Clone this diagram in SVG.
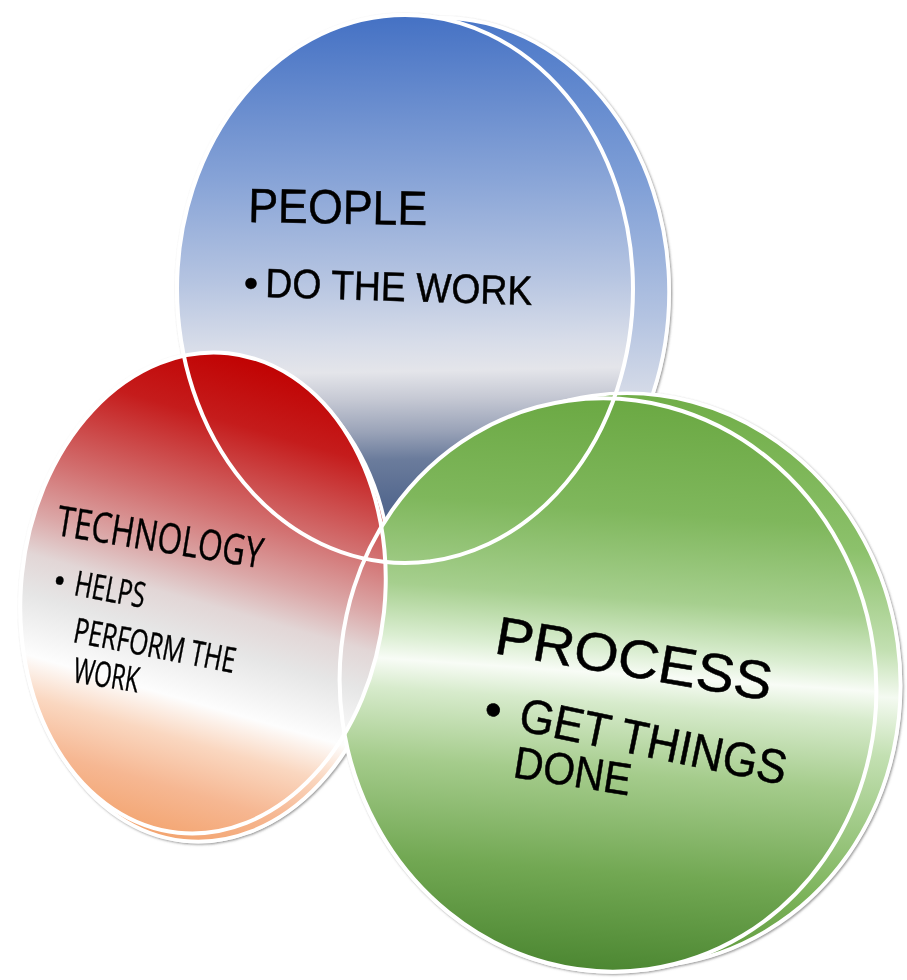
<svg xmlns="http://www.w3.org/2000/svg" xmlns:xlink="http://www.w3.org/1999/xlink" width="907" height="980" viewBox="0 0 907 980">
<style>
.rim{fill:none;stroke:#ffffff;stroke-width:4}
.side{stroke:#ffffff;stroke-width:3.5}
.sil{fill:#ffffff;stroke:#ffffff;stroke-width:4}
.t{fill:#000000;stroke:#000000;stroke-width:0.5;font-family:"Liberation Sans",Arial,sans-serif}
.c{fill:#000000;stroke:#000000;stroke-width:0.4;font-family:"Open Sans","Noto Sans",sans-serif}
</style>
<defs>
<filter id="sh" x="-10%" y="-10%" width="120%" height="120%">
<feDropShadow dx="1.2" dy="1.2" stdDeviation="1.3" flood-color="#555555" flood-opacity="0.6"/>
</filter>
<linearGradient id="gBlue" gradientUnits="userSpaceOnUse" x1="400" y1="15" x2="410" y2="563">
<stop offset="0" stop-color="#4471c4"/>
<stop offset="0.3" stop-color="#88a4d7"/>
<stop offset="0.48" stop-color="#b5c4e1"/>
<stop offset="0.6" stop-color="#d8dde9"/>
<stop offset="0.65" stop-color="#e4e5ea"/>
<stop offset="0.7" stop-color="#c6c9d4"/>
<stop offset="0.76" stop-color="#9aa3b8"/>
<stop offset="0.81" stop-color="#6b7c9c"/>
<stop offset="0.885" stop-color="#55698f"/>
<stop offset="1" stop-color="#4a5e86"/>
</linearGradient>
<linearGradient id="gBlueSide" gradientUnits="userSpaceOnUse" x1="436" y1="18" x2="446" y2="566">
<stop offset="0" stop-color="#4a77c8"/>
<stop offset="0.3" stop-color="#7e9ed6"/>
<stop offset="0.55" stop-color="#b3c3e1"/>
<stop offset="0.7" stop-color="#d7dce8"/>
<stop offset="1" stop-color="#6d7fa3"/>
</linearGradient>
<linearGradient id="gRed" gradientUnits="userSpaceOnUse" x1="245" y1="352" x2="160" y2="834">
<stop offset="0" stop-color="#c00000"/>
<stop offset="0.15" stop-color="#c51c1c"/>
<stop offset="0.33" stop-color="#d27070"/>
<stop offset="0.44" stop-color="#dba7a7"/>
<stop offset="0.52" stop-color="#e2d6d6"/>
<stop offset="0.6" stop-color="#e6e6e6"/>
<stop offset="0.72" stop-color="#fdfdfd"/>
<stop offset="0.8" stop-color="#fad7c0"/>
<stop offset="0.9" stop-color="#f6b792"/>
<stop offset="1" stop-color="#f3a571"/>
</linearGradient>
<linearGradient id="gGreen" gradientUnits="userSpaceOnUse" x1="668" y1="400" x2="548" y2="970">
<stop offset="0" stop-color="#6aa842"/>
<stop offset="0.2" stop-color="#7fb75c"/>
<stop offset="0.35" stop-color="#a6cf8e"/>
<stop offset="0.44" stop-color="#dbeed2"/>
<stop offset="0.48" stop-color="#f8fcf6"/>
<stop offset="0.53" stop-color="#d7ebcc"/>
<stop offset="0.65" stop-color="#a5cc8c"/>
<stop offset="0.82" stop-color="#72a853"/>
<stop offset="1" stop-color="#4a8530"/>
</linearGradient>
<linearGradient id="gGreenSide" gradientUnits="userSpaceOnUse" x1="692" y1="395" x2="572" y2="965">
<stop offset="0" stop-color="#70ad47"/>
<stop offset="0.25" stop-color="#8cc16b"/>
<stop offset="0.42" stop-color="#c3e0b2"/>
<stop offset="0.5" stop-color="#f4faf1"/>
<stop offset="0.6" stop-color="#c3e0b2"/>
<stop offset="0.85" stop-color="#7cb35a"/>
<stop offset="1" stop-color="#5a9438"/>
</linearGradient>
<ellipse id="eBlue" cx="405" cy="289" rx="228" ry="274"/>
<ellipse id="eBlueSide" cx="441" cy="292" rx="228" ry="274"/>
<ellipse id="eRed" cx="203" cy="593" rx="182" ry="241" transform="rotate(6 203 593)"/>
<ellipse id="eRedSide" cx="209" cy="601" rx="182" ry="241" transform="rotate(6 209 601)"/>
<ellipse id="eGreen" cx="608" cy="685" rx="268" ry="287" transform="rotate(-8 608 685)"/>
<ellipse id="eGreenSide" cx="632" cy="680" rx="268" ry="287" transform="rotate(-8 632 680)"/>
</defs>
<rect width="907" height="980" fill="#ffffff"/>
<g id="shadow" filter="url(#sh)">
<use xlink:href="#eBlueSide" class="sil"/>
<use xlink:href="#eBlue" class="sil"/>
<use xlink:href="#eRedSide" class="sil"/>
<use xlink:href="#eRed" class="sil"/>
<use xlink:href="#eGreenSide" class="sil"/>
<use xlink:href="#eGreen" class="sil"/>
</g>
<g id="node-people">
<use xlink:href="#eBlueSide" class="side" fill="url(#gBlueSide)"/>
<use xlink:href="#eBlue" fill="url(#gBlue)"/>
<text class="t" x="248" y="222" font-size="48" textLength="179" lengthAdjust="spacingAndGlyphs" transform="rotate(1 248 222)">PEOPLE</text>
<text class="t" x="244" y="297" font-size="40">•</text>
<text class="t" x="265" y="297" font-size="41" textLength="267" lengthAdjust="spacingAndGlyphs" transform="rotate(1.7 265 297)">DO THE WORK</text>
</g>
<g id="node-technology-side">
<use xlink:href="#eRedSide" class="side" fill="url(#gRed)"/>
</g>
<g id="node-process">
<use xlink:href="#eGreenSide" class="side" fill="url(#gGreenSide)"/>
<use xlink:href="#eGreen" fill="url(#gGreen)"/>
<text class="t" x="493" y="653" font-size="54" textLength="280" lengthAdjust="spacingAndGlyphs" transform="rotate(9.8 493 653)">PROCESS</text>
<text class="t" x="482" y="724" font-size="48" transform="rotate(11 482 724)">•</text>
<text class="t" x="517" y="730" font-size="48" textLength="272" lengthAdjust="spacingAndGlyphs" transform="rotate(11.7 517 730)">GET THINGS</text>
<text class="t" x="512" y="777" font-size="45" textLength="118" lengthAdjust="spacingAndGlyphs" transform="rotate(9 512 777)">DONE</text>
</g>
<g id="node-technology">
<use xlink:href="#eRed" fill="url(#gRed)"/>
<text class="c" x="55" y="535" font-size="42" textLength="208" lengthAdjust="spacingAndGlyphs" transform="rotate(9.2 55 535)">TECHNOLOGY</text>
<text class="c" x="51" y="592" font-size="35" transform="rotate(10 51 592)">•</text>
<text class="c" x="73" y="595" font-size="35" textLength="71" lengthAdjust="spacingAndGlyphs" transform="rotate(10.5 73 595)">HELPS</text>
<text class="c" x="72" y="642" font-size="35" textLength="164" lengthAdjust="spacingAndGlyphs" transform="rotate(10.9 72 642)">PERFORM THE</text>
<text class="c" x="72" y="682" font-size="35" textLength="66" lengthAdjust="spacingAndGlyphs" transform="rotate(9 72 682)">WORK</text>
</g>
<g id="rims">
<use xlink:href="#eBlue" class="rim"/>
<use xlink:href="#eGreen" class="rim"/>
<use xlink:href="#eRed" class="rim"/>
</g>
</svg>
